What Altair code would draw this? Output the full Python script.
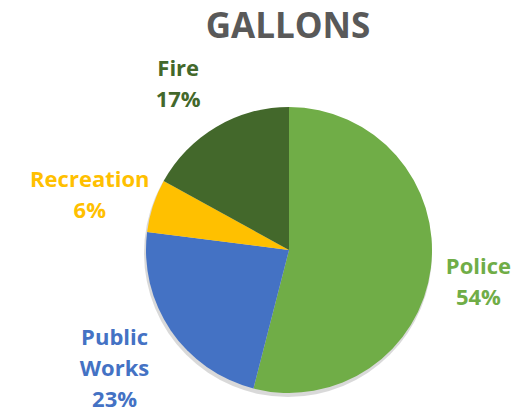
import altair as alt
import pandas as pd

categories = ["Police", "Public Works", "Recreation", "Fire"]
values = [54, 23, 6, 17]
label_lines = ["Police", "Public\nWorks", "Recreation", "Fire"]
colors = ["#70AD47", "#4472C4", "#FFC000", "#43682B"]

df = pd.DataFrame({
    "category": categories,
    "value": values,
    "order": list(range(len(categories))),
    "label": [f"{l}\n{v}%" for l, v in zip(label_lines, values)],
})
df["nlines"] = df["label"].str.count("\n") + 1
TOTAL = float(sum(values))

CX, CY, R = 289, 250, 143
LX, LY, LR = 280, 257, 200
FONT = "Open Sans"
LH = 31

color = alt.Color("category:N", scale=alt.Scale(domain=categories, range=colors), legend=None)
theta_scale = alt.Scale(domain=[0, TOTAL])

base = alt.Chart(df).transform_stack(
    stack="value", as_=["v0", "v1"], groupby=[], sort=[alt.SortField("order")]
).transform_calculate(mid="(datum.v0 + datum.v1) / 2")

shadow = alt.Chart(pd.DataFrame({"a": [1]})).mark_arc(
    radius=R + 1, theta=0, theta2=6.2832, color="#000000", opacity=0.15
).encode(x=alt.value(CX - 1), y=alt.value(CY + 3))

pie = base.mark_arc(radius=R).encode(
    theta=alt.Theta("v0:Q", scale=theta_scale),
    theta2="v1:Q",
    color=color,
    x=alt.value(CX),
    y=alt.value(CY),
)


def label_layer(n):
    return base.transform_filter(alt.datum.nlines == n).mark_text(
        radius=LR, font=FONT, fontSize=22, fontWeight="bold", lineBreak="\n",
        align="center", baseline="middle", lineHeight=LH, dy=-(n - 1) * LH / 2
    ).encode(
        theta=alt.Theta("mid:Q", scale=theta_scale),
        text="label:N",
        color=color,
        x=alt.value(LX),
        y=alt.value(LY),
    )


title = alt.Chart(pd.DataFrame({"t": ["GALLONS"]})).mark_text(
    font=FONT, fontSize=35, fontWeight="bold", color="#595959",
    align="center", baseline="middle"
).encode(text="t:N", x=alt.value(288), y=alt.value(27))

chart = alt.layer(shadow, pie, label_layer(2), label_layer(3), title).properties(
    width=525, height=417, autosize="none", padding=0
).configure_view(stroke=None)

chart.save("out.html", embed_options={"renderer": "svg", "actions": False})
